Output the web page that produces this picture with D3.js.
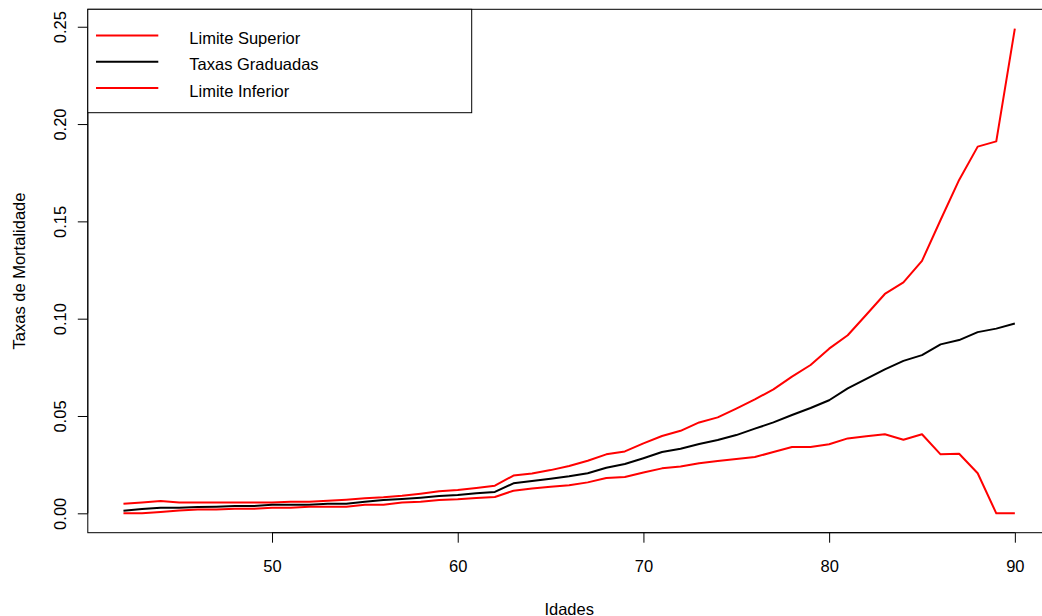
<!DOCTYPE html>
<html>
<head>
<meta charset="utf-8">
<script src="https://cdn.jsdelivr.net/npm/d3@7"></script>
<style>
  html, body { margin: 0; padding: 0; background: #fff; }
  svg { display: block; }
  text { font-family: "Liberation Sans", Arial, sans-serif; fill: #000; }
</style>
</head>
<body>
<script>
// Ages and graduated mortality rates with confidence limits
const ages = d3.range(42, 91);

const limiteSuperior = [
  0.0049, 0.0055, 0.0063, 0.0055, 0.0055, 0.0055, 0.0055, 0.0055, 0.0055, 0.0060,
  0.0060, 0.0065, 0.0070, 0.0077, 0.0082, 0.0090, 0.0101, 0.0113, 0.0120, 0.0130,
  0.0142, 0.0194, 0.0205, 0.0222, 0.0243, 0.0270, 0.0303, 0.0318, 0.0359, 0.0397,
  0.0424, 0.0467, 0.0493, 0.0538, 0.0585, 0.0637, 0.0702, 0.0762, 0.0846, 0.0915,
  0.1020, 0.1127, 0.1187, 0.1297, 0.1507, 0.1713, 0.1884, 0.1911, 0.2490
];

const taxasGraduadas = [
  0.0013, 0.0022, 0.0029, 0.0029, 0.0032, 0.0034, 0.0037, 0.0037, 0.0044, 0.0044,
  0.0044, 0.0049, 0.0049, 0.0060, 0.0068, 0.0073, 0.0080, 0.0089, 0.0094, 0.0103,
  0.0110, 0.0154, 0.0166, 0.0178, 0.0190, 0.0206, 0.0234, 0.0253, 0.0283, 0.0315,
  0.0332, 0.0356, 0.0377, 0.0402, 0.0435, 0.0467, 0.0505, 0.0541, 0.0581, 0.0642,
  0.0691, 0.0740, 0.0783, 0.0813, 0.0868, 0.0890, 0.0931, 0.0949, 0.0975
];

const limiteInferior = [
  0.0000, 0.0000, 0.0007, 0.0015, 0.0020, 0.0020, 0.0023, 0.0023, 0.0029, 0.0029,
  0.0034, 0.0034, 0.0034, 0.0044, 0.0044, 0.0055, 0.0060, 0.0068, 0.0072, 0.0079,
  0.0084, 0.0116, 0.0128, 0.0137, 0.0144, 0.0159, 0.0181, 0.0187, 0.0210, 0.0231,
  0.0240, 0.0257, 0.0269, 0.0279, 0.0289, 0.0315, 0.0341, 0.0341, 0.0355, 0.0385,
  0.0396, 0.0406, 0.0378, 0.0406, 0.0303, 0.0306, 0.0206, 0.0000, 0.0000
];

const xTicks = [50, 60, 70, 80, 90];
const yTicks = [0, 0.05, 0.10, 0.15, 0.20, 0.25];

const legendLabels = ["Limite Superior", "Taxas Graduadas", "Limite Inferior"];
const legendColors = ["#ff0000", "#000000", "#ff0000"];

const W = 1042, H = 616;
const FS = 16.5;

const svg = d3.select("body").append("svg")
  .attr("width", W).attr("height", H);

// Axis ranges padded by 4% of the data span on each side
const xMin = d3.min(ages), xMax = d3.max(ages);
const xPad = (xMax - xMin) * 0.04;
const yMinV = 0, yMaxV = d3.max(limiteSuperior);
const yPad = (yMaxV - yMinV) * 0.04;

const plot = { left: 87.8, right: 1050.5, top: 9.3, bottom: 532.7 };

const x = d3.scaleLinear()
  .domain([xMin - xPad, xMax + xPad])
  .range([plot.left, plot.right]);

const y = d3.scaleLinear()
  .domain([yMinV - yPad, yMaxV + yPad])
  .range([plot.bottom, plot.top]);

// Data lines
const line = d3.line()
  .x((d, i) => x(ages[i]))
  .y(d => y(d));

const series = [
  { values: limiteSuperior, color: "#ff0000" },
  { values: taxasGraduadas, color: "#000000" },
  { values: limiteInferior, color: "#ff0000" }
];

svg.append("g").selectAll("path")
  .data(series)
  .join("path")
  .attr("d", s => line(s.values))
  .attr("fill", "none")
  .attr("stroke", s => s.color)
  .attr("stroke-width", 2)
  .attr("stroke-linejoin", "round");

// Plot frame
svg.append("rect")
  .attr("x", plot.left).attr("y", plot.top)
  .attr("width", plot.right - plot.left)
  .attr("height", plot.bottom - plot.top)
  .attr("fill", "none")
  .attr("stroke", "#000")
  .attr("stroke-width", 1);

// Bottom axis
const xAxis = d3.axisBottom(x)
  .tickValues(xTicks)
  .tickSize(10)
  .tickPadding(18)
  .tickFormat(d3.format("d"));

const gx = svg.append("g")
  .attr("transform", `translate(0,${plot.bottom})`)
  .call(xAxis);
gx.select(".domain")
  .attr("d", `M${x(xTicks[0])},0H${x(xTicks[xTicks.length - 1])}`);
gx.selectAll("text")
  .attr("font-size", FS)
  .attr("font-family", "Liberation Sans, Arial, sans-serif")
  .attr("fill", "#000");

// Left axis with rotated tick labels
const yAxis = d3.axisLeft(y)
  .tickValues(yTicks)
  .tickSize(10)
  .tickFormat(d3.format(".2f"));

const gy = svg.append("g")
  .attr("transform", `translate(${plot.left},0)`)
  .call(yAxis);
gy.select(".domain")
  .attr("d", `M0,${y(yTicks[0])}V${y(yTicks[yTicks.length - 1])}`);
gy.selectAll(".tick text")
  .attr("x", null).attr("dy", null)
  .attr("transform", "translate(-22,0) rotate(-90)")
  .attr("text-anchor", "middle")
  .attr("font-size", FS)
  .attr("font-family", "Liberation Sans, Arial, sans-serif")
  .attr("fill", "#000");

// Axis titles
svg.append("text")
  .attr("x", (plot.left + plot.right) / 2)
  .attr("y", 614.5)
  .attr("text-anchor", "middle")
  .attr("font-size", FS)
  .text("Idades");

svg.append("text")
  .attr("transform", `translate(25,${(plot.top + plot.bottom) / 2}) rotate(-90)`)
  .attr("text-anchor", "middle")
  .attr("font-size", FS)
  .text("Taxas de Mortalidade");

// Legend
const legend = svg.append("g");
legend.append("rect")
  .attr("x", plot.left).attr("y", plot.top)
  .attr("width", 471.7 - plot.left)
  .attr("height", 112.7 - plot.top)
  .attr("fill", "#fff")
  .attr("stroke", "#000")
  .attr("stroke-width", 1);

const legendY = d3.scalePoint()
  .domain(legendLabels)
  .range([35.5, 88]);

const items = legend.selectAll("g.item")
  .data(legendLabels)
  .join("g")
  .attr("class", "item")
  .attr("transform", d => `translate(0,${legendY(d)})`);

items.append("line")
  .attr("x1", 96).attr("x2", 158.3)
  .attr("y1", 0).attr("y2", 0)
  .attr("stroke", (d, i) => legendColors[i])
  .attr("stroke-width", 2);

items.append("text")
  .attr("x", 189.3)
  .attr("y", 8.6)
  .attr("font-size", FS)
  .text(d => d);
</script>
</body>
</html>
